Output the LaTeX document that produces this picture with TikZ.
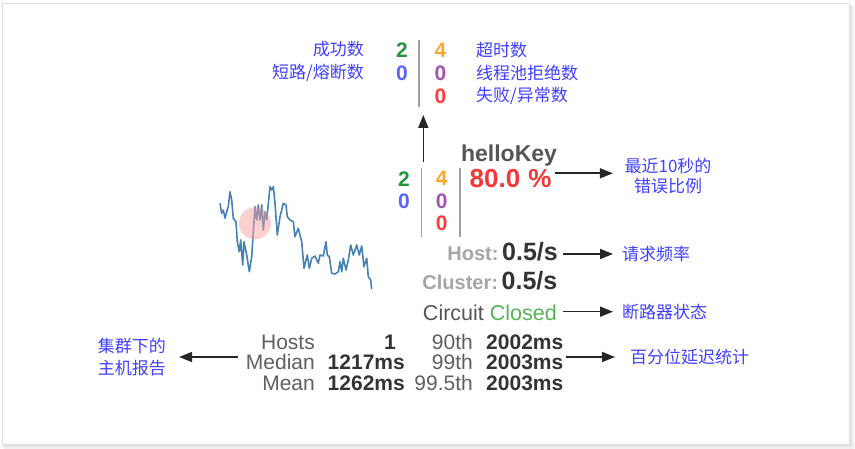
\documentclass[tikz,border=0pt]{standalone}
\usepackage{fontspec}
\setmainfont{Liberation Sans}
\newfontfamily\cjk{Noto Sans CJK SC}
\usetikzlibrary{arrows.meta}
\definecolor{labblue}{RGB}{64,64,255}
\definecolor{cgreen}{RGB}{34,150,60}
\definecolor{cblue}{RGB}{90,100,255}
\definecolor{corange}{RGB}{255,165,40}
\definecolor{cpurple}{RGB}{160,85,175}
\definecolor{cred}{RGB}{255,60,60}
\definecolor{pctred}{RGB}{245,55,55}
\definecolor{titlegray}{RGB}{85,85,85}
\definecolor{hostgray}{RGB}{165,165,165}
\definecolor{darktext}{RGB}{51,51,51}
\definecolor{closedgreen}{RGB}{85,180,85}
\definecolor{tablab}{RGB}{95,95,95}
\definecolor{spark}{RGB}{70,130,180}
\definecolor{pinkc}{RGB}{245,160,160}
\definecolor{sepgray}{RGB}{160,160,160}
\tikzset{
  cn/.style={font=\cjk\fontsize{17}{20.5}\selectfont, text=labblue, inner sep=0pt},
  dig/.style={font=\bfseries\fontsize{21}{21}\selectfont, inner sep=0pt},
  arr/.style={draw=black!85, line width=1.6pt, -{Triangle[length=13pt,width=10pt]}},
  vline/.style={draw=sepgray, line width=1.3pt},
  tl/.style={font=\fontsize{21}{21}\selectfont, text=tablab, inner sep=0pt, anchor=base east},
  tv/.style={font=\bfseries\fontsize{21}{21}\selectfont, text=darktext, inner sep=0pt, anchor=base east},
}
\begin{document}
\begin{tikzpicture}[x=1pt,y=-1pt]
\useasboundingbox (0,0) rectangle (855,449);
% card with shadow
\fill[white] (0,0) rectangle (855,449);
\fill[black!6] (4,6) rectangle (854,448.5);
\fill[black!11] (3,5) rectangle (852,446.5);
\fill[white, draw=black!12, line width=0.5pt] (2,3) rectangle (849,444);

% top legend
\node[cn, anchor=east] (succlab) at (364,48.8) {成功数};
\node[cn, anchor=east] (sclab) at (364,73) {短路/熔断数};
\node[dig, text=cgreen] (lsucc) at (402,50.5) {2};
\node[dig, text=cblue] (lsc) at (402,73.3) {0};
\node[dig, text=corange] (lto) at (440.5,50.5) {4};
\node[dig, text=cpurple] (lrej) at (440.5,73.3) {0};
\node[dig, text=cred] (lfail) at (440.5,96) {0};
\node[cn, anchor=west] (tolab) at (476,49.7) {超时数};
\node[cn, anchor=west] (rejlab) at (476,73) {线程池拒绝数};
\node[cn, anchor=west] (faillab) at (476,96) {失败/异常数};
\draw[vline] (419,40) -- (419,107);

\coordinate (arrbot) at (423.3,161.7);
\coordinate (arrtop) at (423.3,115);
\draw[arr] (arrbot) -- (arrtop);

% sparkline
\draw[spark, line width=1.6pt, line join=round] plot coordinates {
(220,203.3) (221.7,213.3) (223.3,210) (225,218.3) (226.7,211.7) (228.3,206.7)
(230,191.7) (231.7,200) (233.3,218.3) (236,221.7) (237.3,241.7) (239.3,251.7)
(240.7,240) (242.7,265) (244,241.7) (246.7,255) (249.3,271.7) (251.7,256.7)
(255,206.7) (256.7,220) (258.3,205) (260,220) (261.7,205) (263.3,230)
(265,211.7) (266.7,220) (270,186.7) (271.7,190) (273.3,186.7) (275,203.3)
(277.3,235) (280,216.7) (283.3,203.3) (286,205) (287.3,216.7) (290,220)
(293.3,221.7) (295,236.7) (298.3,228.3) (301.7,241.7) (304,268.3) (306,260)
(307.3,255) (309.3,268.3) (311.7,258.3) (315,256) (318.3,263.3) (320,255)
(323.3,256) (326,241.7) (327.3,255) (329.3,256.7) (331.7,273.3) (335,274)
(338.3,271.7) (340,261.7) (341.7,271.7) (343.3,258.3) (346,270) (348.3,260)
(350.7,245) (353.3,255) (356.7,245) (359.3,255) (361.7,246) (364,266.7)
(366.7,258.3) (368.3,276.7) (370.7,280) (371.7,289.3)};
\fill[pinkc, opacity=0.5] (255,223.3) circle (16);

% middle block
\node[font=\bfseries\fontsize{23}{23}\selectfont, text=titlegray, anchor=base, inner sep=0pt] (title) at (509,161.7) {helloKey};
\node[dig, text=cgreen] (msucc) at (404,178.7) {2};
\node[dig, text=cblue] (msc) at (404,201.3) {0};
\node[dig, text=corange] (mto) at (441.7,178.7) {4};
\node[dig, text=cpurple] (mrej) at (441.7,201.3) {0};
\node[dig, text=cred] (mfail) at (441.7,223.3) {0};
\draw[vline] (421.7,168) -- (421.7,236.7);
\draw[vline] (460,168) -- (460,236.7);
\node[font=\bfseries\fontsize{26}{26}\selectfont, text=pctred, anchor=west, inner sep=0pt] (pct) at (469.5,178.8) {80.0\hspace{8pt}\%};
\node[cn, align=center] (errlab) at (668,176) {最近10秒的\\错误比例};
\coordinate (erry) at (0,173.3);
\draw[arr, shorten <=3pt, shorten >=11.5pt] (pct.east |- erry) -- (errlab.west |- erry);

% rates
\node[anchor=base east, inner sep=0pt] (host) at (558,261)
  {{\fontsize{20}{20}\selectfont\bfseries\color{hostgray}Host:} {\fontsize{25}{25}\selectfont\bfseries\color{darktext}0.5/s}};
\node[anchor=base east, inner sep=0pt] (cluster) at (557.5,290)
  {{\fontsize{20}{20}\selectfont\bfseries\color{hostgray}Cluster:} {\fontsize{25}{25}\selectfont\bfseries\color{darktext}0.5/s}};
\node[anchor=base east, inner sep=0pt, font=\fontsize{21.5}{21.5}\selectfont] (circ) at (557,320.5)
  {{\color{titlegray}Circuit} {\color{closedgreen}Closed}};
\node[cn, anchor=west] (reqlab) at (622,254) {请求频率};
\node[cn, anchor=west] (cirlab) at (622,311.7) {断路器状态};
\draw[arr, shorten <=5pt, shorten >=9pt] (host.east |- reqlab) -- (reqlab.west);
\draw[arr, shorten <=6pt, shorten >=9pt] (circ.east |- cirlab) -- (cirlab.west);

% table
\node[tl] (hosts) at (315,349.3) {Hosts};
\node[tl] (median) at (315,369.8) {Median};
\node[tl] (mean) at (315,390.3) {Mean};
\node[tv] (nhosts) at (396,349.3) {1};
\node[tv] (vmedian) at (405,369.8) {1217ms};
\node[tv] (vmean) at (405,390.3) {1262ms};
\node[tl] (p90) at (473,349.3) {90th};
\node[tl] (p99) at (473,369.8) {99th};
\node[tl] (p995) at (473,390.3) {99.5th};
\node[tv] (v90) at (563.5,349.3) {2002ms};
\node[tv] (v99) at (563.5,369.8) {2003ms};
\node[tv] (v995) at (563.5,390.3) {2003ms};

\node[cn, align=left, anchor=west, font=\cjk\fontsize{17}{22.3}\selectfont] (hostlab) at (97.7,357) {集群下的\\主机报告};
\node[cn, anchor=west] (pctlab) at (630,357) {百分位延迟统计};
\draw[arr, shorten <=8pt, shorten >=13pt] (median.west |- hostlab) -- (hostlab.east);
\draw[arr, shorten <=2pt, shorten >=15pt] (v99.east |- pctlab) -- (pctlab.west);
\end{tikzpicture}
\end{document}
